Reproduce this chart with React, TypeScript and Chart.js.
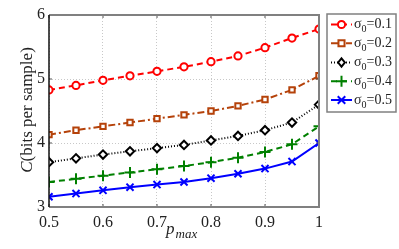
import React, { useEffect, useRef } from "react";
import { Chart, registerables } from "chart.js";

Chart.register(...registerables);

const pmax = [0.5, 0.55, 0.6, 0.65, 0.7, 0.75, 0.8, 0.85, 0.9, 0.95, 1.0];
const sigma01 = [4.83, 4.9, 4.98, 5.05, 5.12, 5.19, 5.27, 5.36, 5.49, 5.64, 5.78];
const sigma02 = [4.13, 4.2, 4.26, 4.32, 4.38, 4.44, 4.5, 4.58, 4.68, 4.83, 5.05];
const sigma03 = [3.7, 3.76, 3.82, 3.87, 3.92, 3.97, 4.04, 4.11, 4.2, 4.32, 4.6];
const sigma04 = [3.39, 3.44, 3.49, 3.54, 3.59, 3.64, 3.7, 3.77, 3.86, 3.98, 4.26];
const sigma05 = [3.16, 3.21, 3.26, 3.31, 3.35, 3.39, 3.45, 3.52, 3.6, 3.71, 4.0];
const legendLabels = ["0.1", "0.2", "0.3", "0.4", "0.5"];
const xTicks = [0.5, 0.6, 0.7, 0.8, 0.9, 1];
const yTicks = [3, 4, 5, 6];

const FONT = "'Liberation Serif', 'Times New Roman', serif";

const styles = [
  { color: "#ff0000", dash: [6, 4], point: "circle", radius: 3.6 },
  { color: "#b5420a", dash: [7, 3, 2, 3], point: "rect", radius: 3.8 },
  { color: "#000000", dash: [1, 2], point: "rectRot", radius: 4.2 },
  { color: "#008000", dash: [6, 4], point: "cross", radius: 5.5 },
  { color: "#0000ff", dash: [], point: "crossRot", radius: 5 },
];

const series = [sigma01, sigma02, sigma03, sigma04, sigma05];

function drawMarker(ctx: CanvasRenderingContext2D, type: string, r: number, x: number, y: number, color: string) {
  ctx.strokeStyle = color;
  ctx.fillStyle = "#fff";
  ctx.lineWidth = 2;
  ctx.beginPath();
  if (type === "circle") {
    ctx.arc(x, y, r, 0, Math.PI * 2);
    ctx.fill();
    ctx.stroke();
  } else if (type === "rect") {
    ctx.rect(x - r * 0.8, y - r * 0.8, r * 1.6, r * 1.6);
    ctx.fill();
    ctx.stroke();
  } else if (type === "rectRot") {
    ctx.moveTo(x, y - r);
    ctx.lineTo(x + r * 0.8, y);
    ctx.lineTo(x, y + r);
    ctx.lineTo(x - r * 0.8, y);
    ctx.closePath();
    ctx.fill();
    ctx.stroke();
  } else if (type === "cross") {
    ctx.moveTo(x - r, y);
    ctx.lineTo(x + r, y);
    ctx.moveTo(x, y - r);
    ctx.lineTo(x, y + r);
    ctx.stroke();
  } else {
    const d = r * 0.75;
    ctx.moveTo(x - d, y - d);
    ctx.lineTo(x + d, y + d);
    ctx.moveTo(x + d, y - d);
    ctx.lineTo(x - d, y + d);
    ctx.stroke();
  }
}

const framePlugin = {
  id: "framePlugin",
  afterDraw(chart: any) {
    const { ctx, chartArea } = chart;
    const { left, right, top, bottom } = chartArea;
    ctx.save();
    ctx.strokeStyle = "#555";
    ctx.lineWidth = 1;
    const xs = chart.scales.x;
    const ys = chart.scales.y;
    xTicks.forEach((v) => {
      const px = xs.getPixelForValue(v);
      ctx.beginPath();
      ctx.moveTo(px, bottom);
      ctx.lineTo(px, bottom - 3);
      ctx.moveTo(px, top);
      ctx.lineTo(px, top + 3);
      ctx.stroke();
    });
    yTicks.forEach((v) => {
      const py = ys.getPixelForValue(v);
      ctx.beginPath();
      ctx.moveTo(left, py);
      ctx.lineTo(left + 3, py);
      ctx.moveTo(right, py);
      ctx.lineTo(right - 3, py);
      ctx.stroke();
    });
    ctx.strokeStyle = "#808080";
    ctx.lineWidth = 2;
    ctx.beginPath();
    ctx.moveTo(left, top);
    ctx.lineTo(right, top);
    ctx.lineTo(right, bottom);
    ctx.lineTo(left, bottom);
    ctx.stroke();
    ctx.strokeStyle = "#111";
    ctx.lineWidth = 1.5;
    ctx.beginPath();
    ctx.moveTo(left, top);
    ctx.lineTo(left, bottom);
    ctx.stroke();

    ctx.fillStyle = "#222";
    ctx.textBaseline = "alphabetic";
    ctx.font = `italic 17px ${FONT}`;
    ctx.textAlign = "left";
    const px0 = 166;
    ctx.fillText("p", px0, 234);
    const pw = ctx.measureText("p").width;
    ctx.font = `italic 13px ${FONT}`;
    ctx.fillText("max", px0 + pw + 1, 238);

    ctx.save();
    ctx.translate(32, 110);
    ctx.rotate(-Math.PI / 2);
    ctx.font = `italic 17px ${FONT}`;
    const cW = ctx.measureText("C").width;
    ctx.font = `17px ${FONT}`;
    const rest = "(bits per sample)";
    const rW = ctx.measureText(rest).width;
    const total = cW + rW;
    ctx.textAlign = "left";
    ctx.font = `italic 17px ${FONT}`;
    ctx.fillText("C", -total / 2, 0);
    ctx.font = `17px ${FONT}`;
    ctx.fillText(rest, -total / 2 + cW, 0);
    ctx.restore();

    const lx = 327, ly = 14, lw = 69, lh = 98;
    ctx.fillStyle = "#fff";
    ctx.fillRect(lx, ly, lw, lh);
    ctx.strokeStyle = "#808080";
    ctx.lineWidth = 1.5;
    ctx.strokeRect(lx, ly, lw, lh);
    const rows = [24.5, 43.3, 62.5, 81.3, 100];
    styles.forEach((s, i) => {
      const y = rows[i];
      ctx.save();
      ctx.strokeStyle = s.color;
      ctx.lineWidth = 2;
      ctx.setLineDash(s.dash);
      ctx.beginPath();
      ctx.moveTo(331, y);
      ctx.lineTo(352, y);
      ctx.stroke();
      ctx.setLineDash([]);
      drawMarker(ctx, s.point, s.radius, 341.5, y, s.color);
      ctx.restore();
      ctx.fillStyle = "#222";
      ctx.font = `14px ${FONT}`;
      ctx.textAlign = "left";
      ctx.textBaseline = "middle";
      const tx = 354;
      ctx.fillText("σ", tx, y);
      const sw = ctx.measureText("σ").width;
      ctx.font = `10px ${FONT}`;
      ctx.fillText("0", tx + sw, y + 5);
      const zw = ctx.measureText("0").width;
      ctx.font = `14px ${FONT}`;
      ctx.fillText("=" + legendLabels[i], tx + sw + zw, y);
    });
    ctx.restore();
  },
};

export default function App() {
  const ref = useRef<HTMLCanvasElement>(null);
  useEffect(() => {
    document.body.style.margin = "0";
    const canvas = ref.current!;
    const chart = new Chart(canvas, {
      type: "line",
      data: {
        datasets: series.map((vals, i) => ({
          label: "σ0=" + legendLabels[i],
          data: pmax.map((x, j) => ({ x, y: vals[j] })),
          borderColor: styles[i].color,
          backgroundColor: "#ffffff",
          borderWidth: 2,
          borderDash: styles[i].dash,
          pointStyle: styles[i].point as any,
          pointRadius: styles[i].radius,
          pointBorderColor: styles[i].color,
          pointBackgroundColor: "#ffffff",
          pointBorderWidth: 2,
          tension: 0,
          fill: false,
        })),
      },
      options: {
        animation: false,
        responsive: false,
        maintainAspectRatio: false,
        layout: { padding: { top: 15, right: 80, left: 0, bottom: 0 } },
        plugins: { legend: { display: false }, tooltip: { enabled: false } },
        scales: {
          x: {
            type: "linear",
            min: 0.5,
            max: 1,
            afterBuildTicks: (s: any) => {
              s.ticks = xTicks.map((v) => ({ value: v }));
            },
            afterFit: (s: any) => {
              s.height = 42;
            },
            ticks: {
              font: { family: FONT, size: 16 },
              color: "#222",
              padding: 6,
              maxRotation: 0,
              callback: (v: any) => String(Math.round(Number(v) * 10) / 10),
            },
            grid: { color: "#c8c8c8", lineWidth: 1, drawTicks: false },
            border: { display: false, dash: [1, 2] },
          },
          y: {
            type: "linear",
            min: 3,
            max: 6,
            afterBuildTicks: (s: any) => {
              s.ticks = yTicks.map((v) => ({ value: v }));
            },
            afterFit: (s: any) => {
              s.width = 49;
            },
            ticks: {
              font: { family: FONT, size: 16 },
              color: "#222",
              padding: 4,
              callback: (v: any) => String(v),
            },
            grid: { color: "#c8c8c8", lineWidth: 1, drawTicks: false },
            border: { display: false, dash: [1, 2] },
          },
        },
      },
      plugins: [framePlugin],
    });
    return () => chart.destroy();
  }, []);
  return <canvas ref={ref} width={399} height={249} style={{ display: "block" }} />;
}
